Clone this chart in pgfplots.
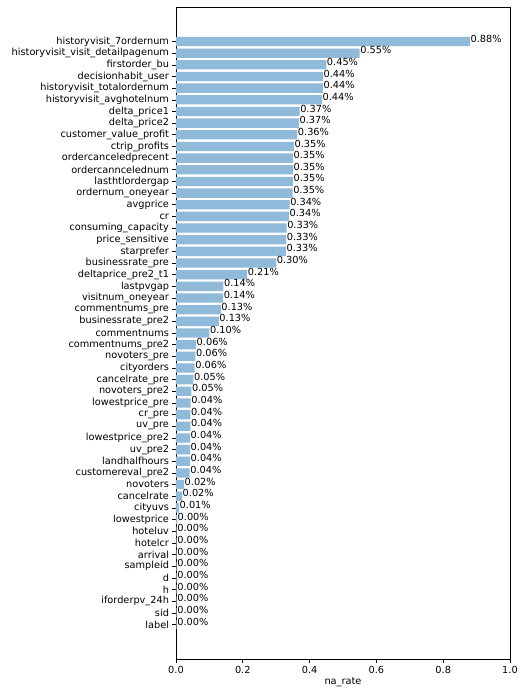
\documentclass[border=0pt]{standalone}
\usepackage{pgfplots}
\pgfplotsset{compat=1.18}
\usepackage{pgfplotstable}
\usepackage{fontspec}
\setmainfont{DejaVu Sans}
\definecolor{barc}{RGB}{143,186,217}
\pgfplotstableread[col sep=comma]{
idx,val
0,0.880
1,0.550
2,0.450
3,0.440
4,0.440
5,0.437
6,0.370
7,0.368
8,0.363
9,0.353
10,0.350
11,0.350
12,0.350
13,0.349
14,0.340
15,0.338
16,0.331
17,0.330
18,0.329
19,0.300
20,0.213
21,0.142
22,0.141
23,0.134
24,0.128
25,0.100
26,0.060
27,0.058
28,0.056
29,0.052
30,0.046
31,0.044
32,0.043
33,0.043
34,0.042
35,0.042
36,0.042
37,0.041
38,0.024
39,0.018
40,0.009
41,0.003
42,0.002
43,0.002
44,0.002
45,0.002
46,0.002
47,0.002
48,0.002
49,0.002
50,0.002
}\natable
\begin{document}
\begin{tikzpicture}
\begin{axis}[
  at={(0,0)}, anchor=south west,
  scale only axis,
  width=334bp, height=652bp,
  xbar, bar width=0.8,
  y dir=reverse,
  xmin=0, xmax=1,
  ymin=-2.96, ymax=52.96,
  xtick={0,0.2,0.4,0.6,0.8,1.0},
  xticklabel style={/pgf/number format/.cd, fixed, fixed zerofill, precision=1},
  /pgf/number format/assume math mode=true,
  ytick={0,...,50},
  yticklabels={historyvisit\_7ordernum,historyvisit\_visit\_detailpagenum,firstorder\_bu,decisionhabit\_user,historyvisit\_totalordernum,historyvisit\_avghotelnum,delta\_price1,delta\_price2,customer\_value\_profit,ctrip\_profits,ordercanceledprecent,ordercanncelednum,lasthtlordergap,ordernum\_oneyear,avgprice,cr,consuming\_capacity,price\_sensitive,starprefer,businessrate\_pre,deltaprice\_pre2\_t1,lastpvgap,visitnum\_oneyear,commentnums\_pre,businessrate\_pre2,commentnums,commentnums\_pre2,novoters\_pre,cityorders,cancelrate\_pre,novoters\_pre2,lowestprice\_pre,cr\_pre,uv\_pre,lowestprice\_pre2,uv\_pre2,landhalfhours,customereval\_pre2,novoters,cancelrate,cityuvs,lowestprice,hoteluv,hotelcr,arrival,sampleid,d,h,iforderpv\_24h,sid,label},
  tick align=outside,
  major tick length=3.5bp,
  xtick pos=bottom, ytick pos=left,
  tick style={black, line width=0.6pt},
  axis line style={black, line width=0.8pt},
  ticklabel style={font=\fontsize{9.8}{11}\selectfont},
  xlabel={na\_rate},
  xlabel style={font=\fontsize{9.8}{11}\selectfont, yshift=3bp},
  nodes near coords={\pgfmathprintnumber[fixed,fixed zerofill,precision=2]{\pgfplotspointmeta}\%},
  point meta=x,
  every node near coord/.append style={anchor=west, inner sep=0.5pt, xshift=0pt, yshift=3bp, font=\fontsize{9.8}{11}\selectfont, black},
]
\addplot[fill=barc, draw=none] table[x=val, y=idx] {\natable};
\end{axis}
\path[use as bounding box] (-176bp,-39bp) rectangle (349bp,659bp);
\end{tikzpicture}
\end{document}
